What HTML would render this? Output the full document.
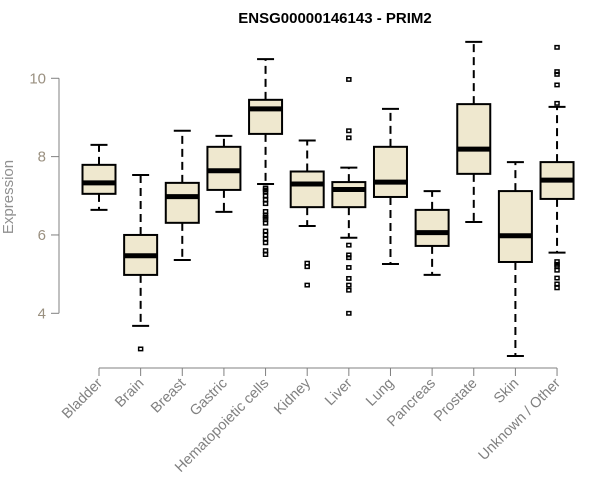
<!DOCTYPE html>
<html><head><meta charset="utf-8"><style>body{margin:0;background:#fff}svg{display:block;font-family:"Liberation Sans",sans-serif}</style></head>
<body>
<svg id="chart" width="600" height="500">
<text x="335" y="23" text-anchor="middle" font-weight="bold" font-size="15">ENSG00000146143 - PRIM2</text>
<text transform="translate(13,197) rotate(-90)" text-anchor="middle" font-size="15" fill="#909090">Expression</text>
<g id="axes"></g><g id="boxes"></g>
</svg>
<script>
const categories=["Bladder","Brain","Breast","Gastric","Hematopoietic cells","Kidney","Liver","Lung","Pancreas","Prostate","Skin","Unknown / Other"];
const whiskerLow=[6.64,3.68,5.36,6.59,7.30,6.23,5.93,5.26,4.98,6.33,2.91,5.55];
const q1=[7.05,4.98,6.31,7.15,8.58,6.71,6.71,6.97,5.72,7.56,5.31,6.92];
const medians=[7.33,5.47,6.98,7.64,9.22,7.30,7.16,7.35,6.06,8.19,5.98,7.40];
const q3=[7.79,6.0,7.33,8.25,9.45,7.62,7.35,8.25,6.64,9.34,7.12,7.86];
const whiskerHigh=[8.30,7.53,8.66,8.53,10.49,8.41,7.72,9.22,7.12,10.93,7.86,9.27];
const outliers=[[],[3.09],[],[],[7.2,7.15,7.1,7.0,6.9,6.8,6.6,6.5,6.45,6.4,6.3,6.1,6.0,5.9,5.8,5.6,5.5],[5.28,5.19,4.72],[9.97,8.66,8.48,5.74,5.49,5.42,5.17,4.89,4.72,4.59,4.0],[],[],[],[],[10.79,10.17,10.10,9.83,9.36,5.32,5.25,5.2,5.1,4.9,4.75,4.65]];
const yTicks=[4,6,8,10];
const NS="http://www.w3.org/2000/svg";
const y=v=>313.3-(v-4)*39.17;
const x=i=>99+i*41.64;
function mk(tag,attrs,parent){const e=document.createElementNS(NS,tag);for(const k in attrs)e.setAttribute(k,attrs[k]);parent.appendChild(e);return e;}
const ax=document.getElementById('axes'),bx=document.getElementById('boxes');
let yl=mk('line',{x1:59,x2:59,y1:y(yTicks[0]),y2:y(yTicks[yTicks.length-1]),stroke:'#808080'},ax);


yTicks.forEach(t=>{
 let l=mk('line',{x1:51,x2:59,y1:y(t),y2:y(t),stroke:'#808080'},ax);
 
 
 let tx=mk('text',{x:46,y:y(t)+5,'text-anchor':'end','font-size':15,fill:'#9a9080'},ax);
 tx.textContent=t;
 
 
});
let xl=mk('line',{x1:x(0),x2:x(categories.length-1),y1:368,y2:368,stroke:'#808080'},ax);


categories.forEach((c,i)=>{
 const cx=x(i);
 let t=mk('line',{x1:cx,x2:cx,y1:368,y2:376,stroke:'#808080'},ax);
 
 
 let tx=mk('text',{transform:`translate(${cx+4},${384}) rotate(-45)`,'text-anchor':'end','font-size':14.5,fill:'#808080'},ax);
 tx.textContent=c;
 
 
 const g=mk('g',{},bx);
 
 
 mk('line',{x1:cx,x2:cx,y1:y(q3[i]),y2:y(whiskerHigh[i]),stroke:'#000','stroke-width':2,'stroke-dasharray':'8,5'},g);
 mk('line',{x1:cx,x2:cx,y1:y(q1[i]),y2:y(whiskerLow[i]),stroke:'#000','stroke-width':2,'stroke-dasharray':'8,5'},g);
 mk('line',{x1:cx-8.5,x2:cx+8.5,y1:y(whiskerHigh[i]),y2:y(whiskerHigh[i]),stroke:'#000','stroke-width':2},g);
 mk('line',{x1:cx-8.5,x2:cx+8.5,y1:y(whiskerLow[i]),y2:y(whiskerLow[i]),stroke:'#000','stroke-width':2},g);
 mk('rect',{x:cx-16.5,y:y(q3[i]),width:33,height:y(q1[i])-y(q3[i]),fill:'#efe8cf',stroke:'#000','stroke-width':2},g);
 mk('line',{x1:cx-16.5,x2:cx+16.5,y1:y(medians[i]),y2:y(medians[i]),stroke:'#000','stroke-width':5},g);
 outliers[i].forEach(o=>{
  let r=mk('rect',{x:cx-2,y:y(o)-1.7,width:4,height:3.4,fill:'none',stroke:'#000','stroke-width':1.5},g);
  
  
 });
});
</script>
</body></html>
